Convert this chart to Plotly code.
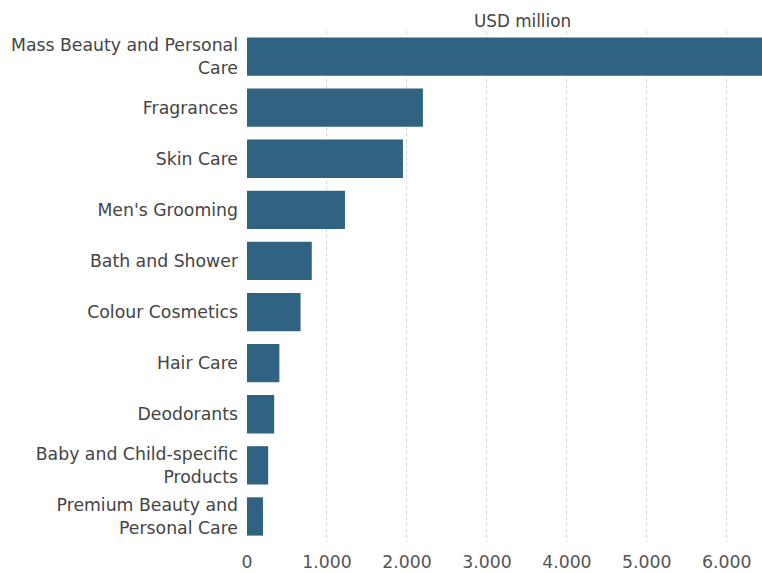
import plotly.graph_objects as go

categories = [
    "Mass Beauty and Personal<br>Care",
    "Fragrances",
    "Skin Care",
    "Men's Grooming",
    "Bath and Shower",
    "Colour Cosmetics",
    "Hair Care",
    "Deodorants",
    "Baby and Child-specific<br>Products",
    "Premium Beauty and<br>Personal Care",
]
values = [6500, 2200, 1950, 1225, 810, 670, 405, 340, 265, 200]
tick_vals = [0, 1000, 2000, 3000, 4000, 5000, 6000]
tick_text = ["0", "1.000", "2.000", "3.000", "4.000", "5.000", "6.000"]

FS = 17.3

fig = go.Figure(
    go.Bar(
        x=values,
        y=categories,
        orientation="h",
        marker=dict(color="#2f6381", line=dict(width=0)),
        hoverinfo="x+y",
    )
)

fig.update_layout(
    width=762,
    height=573,
    margin=dict(l=247, r=0, t=31, b=31),
    paper_bgcolor="white",
    plot_bgcolor="white",
    bargap=0.25,
    showlegend=False,
    font=dict(family="DejaVu Sans", size=FS, color="#444444"),
    xaxis=dict(
        range=[0, 6440],
        tickvals=tick_vals,
        ticktext=tick_text,
        showgrid=True,
        gridcolor="#d6d6d6",
        griddash="3px,3px",
        gridwidth=1,
        zeroline=False,
        showline=False,
        ticks="",
        ticklabelstandoff=8,
        tickfont=dict(size=FS, color="#555555"),
    ),
    yaxis=dict(
        autorange="reversed",
        showgrid=False,
        zeroline=False,
        showline=False,
        ticks="",
        ticklabelstandoff=8,
        tickfont=dict(size=FS, color="#444444"),
    ),
    annotations=[
        dict(
            text="USD million",
            xref="paper",
            yref="paper",
            x=0.534,
            y=1,
            xanchor="center",
            yanchor="bottom",
            yshift=-2,
            showarrow=False,
            font=dict(size=FS - 0.5, color="#444444"),
        )
    ],
)

fig.write_html("out.html")
